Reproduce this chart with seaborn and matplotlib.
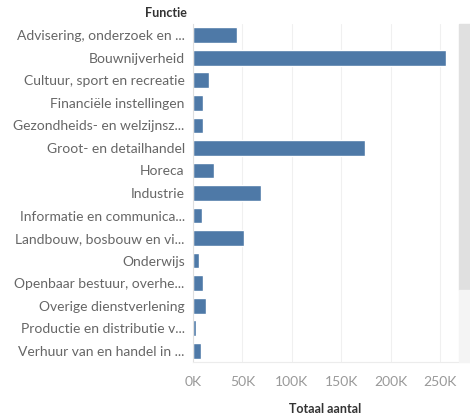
import pandas as pd
import matplotlib.pyplot as plt
import seaborn as sns
from matplotlib.ticker import FuncFormatter

# data (values in thousands)
functies = [
    "Advisering, onderzoek en ...",
    "Bouwnijverheid",
    "Cultuur, sport en recreatie",
    "Financiële instellingen",
    "Gezondheids- en welzijnsz...",
    "Groot- en detailhandel",
    "Horeca",
    "Industrie",
    "Informatie en communica...",
    "Landbouw, bosbouw en vi...",
    "Onderwijs",
    "Openbaar bestuur, overhe...",
    "Overige dienstverlening",
    "Productie en distributie v...",
    "Verhuur van en handel in ...",
]
totaal_k = [44, 256, 16, 10, 10, 174, 21, 69, 9, 52, 6.5, 10, 13, 3, 8]
x_ticks = [0, 50000, 100000, 150000, 200000, 250000]

BAR_BLUE = "#4e79a7"
LABEL_GREY = "#666666"

sns.set_style("white")
plt.rcParams["font.family"] = ["Lato", "DejaVu Sans"]

df = pd.DataFrame({"Functie": functies, "Totaal aantal": [v * 1000 for v in totaal_k]})

fig = plt.figure(figsize=(4.70, 4.18), dpi=100)
ax = fig.add_axes([193 / 470, 1 - 362 / 418, 265 / 470, 338 / 418])

sns.barplot(data=df, y="Functie", x="Totaal aantal", color=BAR_BLUE,
            width=0.7, saturation=1, ax=ax, orient="h")

ax.set_xlim(0, 268000)
ax.set_xticks(x_ticks)
ax.xaxis.set_major_formatter(FuncFormatter(lambda v, p: f"{int(v / 1000)}K"))
ax.grid(axis="x", color="#f0f0f0", linewidth=0.8)
ax.set_axisbelow(True)

for side in ["top", "right"]:
    ax.spines[side].set_visible(False)
ax.spines["left"].set_color("#e0e0e0")
ax.spines["bottom"].set_color("#ececec")

ax.tick_params(axis="y", length=0, pad=6, labelsize=10, labelcolor=LABEL_GREY)
ax.tick_params(axis="x", length=0, pad=10, labelsize=10, labelcolor="#999999")

ax.set_ylabel("")
ax.set_xlabel("Totaal aantal", fontsize=9, color="#333333", fontweight="bold", labelpad=11)

# header above the category labels
fig.text(187 / 470, 1 - 13 / 418, "Functie", ha="right", va="center",
         fontsize=9, fontweight="bold", color="#333333")

# scrollbar on the right
fig.patches.append(plt.Rectangle((459 / 470, 1 - 290 / 418), 11 / 470, 266 / 418,
                                 transform=fig.transFigure, color="#e0e0e0"))
fig.patches.append(plt.Rectangle((459 / 470, 1 - 362 / 418), 11 / 470, 72 / 418,
                                 transform=fig.transFigure, color="#f4f4f4"))

plt.savefig("out.png", dpi=100)
plt.close()
